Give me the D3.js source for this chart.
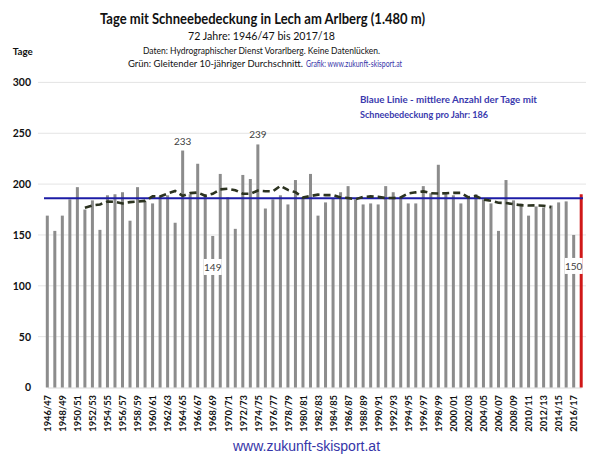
<!DOCTYPE html>
<html>
<head>
<meta charset="utf-8">
<script src="https://cdn.jsdelivr.net/npm/d3@7"></script>
<style>
  html, body { margin: 0; padding: 0; background: #ffffff; }
  svg { display: block; font-family: Lato, "Open Sans", sans-serif; }
</style>
</head>
<body>
<script>
// ---------- data ----------
const seasons = [
  "1946/47","1947/48","1948/49","1949/50","1950/51","1951/52","1952/53","1953/54",
  "1954/55","1955/56","1956/57","1957/58","1958/59","1959/60","1960/61","1961/62",
  "1962/63","1963/64","1964/65","1965/66","1966/67","1967/68","1968/69","1969/70",
  "1970/71","1971/72","1972/73","1973/74","1974/75","1975/76","1976/77","1977/78",
  "1978/79","1979/80","1980/81","1981/82","1982/83","1983/84","1984/85","1985/86",
  "1986/87","1987/88","1988/89","1989/90","1990/91","1991/92","1992/93","1993/94",
  "1994/95","1995/96","1996/97","1997/98","1998/99","1999/00","2000/01","2001/02",
  "2002/03","2003/04","2004/05","2005/06","2006/07","2007/08","2008/09","2009/10",
  "2010/11","2011/12","2012/13","2013/14","2014/15","2015/16","2016/17","2017/18"
];
const snowDays = [
  169,154,169,185,197,175,184,155,189,190,192,164,197,183,181,188,
  189,162,233,190,220,189,149,210,187,156,209,205,239,176,185,189,
  180,204,186,210,169,182,186,192,198,185,180,181,180,198,192,187,
  181,181,198,191,219,192,189,181,188,190,185,181,154,204,184,181,
  169,178,177,179,182,183,150,190
];
const meanDays = 186;            // Blaue Linie
const yTicks = [0, 50, 100, 150, 200, 250, 300];
const labelsAbove = ["1964/65", "1974/75"];
const labelsInside = ["1968/69", "2016/17"];
const highlightSeason = "2017/18";

// ---------- setup ----------
const W = 600, H = 463;
const svg = d3.select("body").append("svg").attr("width", W).attr("height", H);

const x = d3.scalePoint().domain(seasons).range([47.3, 581.2]);
const y = d3.scaleLinear().domain([0, 300]).range([387.5, 82.4]);
const valueOf = new Map(seasons.map((s, i) => [s, snowDays[i]]));

// ---------- titles ----------
function txt(t, xx, yy, size, weight, color, len, anchor) {
  const e = svg.append("text").attr("x", xx).attr("y", yy)
    .attr("font-size", size).attr("font-weight", weight).attr("fill", color)
    .attr("text-anchor", anchor || "start").text(t);
  if (len) e.attr("textLength", len).attr("lengthAdjust", "spacingAndGlyphs");
  return e;
}
txt("Tage mit Schneebedeckung in Lech am Arlberg (1.480 m)", 100, 24, 14.5, "bold", "#111", 325);
txt("72 Jahre: 1946/47 bis 2017/18", 188, 39.5, 11.5, "normal", "#111", 147);
txt("Daten: Hydrographischer Dienst Vorarlberg. Keine Datenlücken.", 143, 54, 9.3, "normal", "#111", 237);
txt("Grün: Gleitender 10-jähriger Durchschnitt.", 128, 66.5, 9.3, "normal", "#111", 175);
txt("Grafik: www.zukunft-skisport.at", 306, 66.5, 9.3, "normal", "#3535a8", 96);
txt("Tage", 12.7, 55, 9.5, "bold", "#111", 20);

// ---------- gridlines ----------
svg.append("g").selectAll("line").data(yTicks.filter(d => d > 0)).join("line")
  .attr("x1", 38).attr("x2", 586)
  .attr("y1", d => y(d)).attr("y2", d => y(d))
  .attr("stroke", "#e4e4e4").attr("stroke-width", 1);

// ---------- y axis ----------
const yAxis = svg.append("g").attr("transform", "translate(34,0)")
  .call(d3.axisLeft(y).tickValues(yTicks).tickSize(0).tickPadding(3));
yAxis.select(".domain").remove();
yAxis.selectAll("text").attr("font-family", "Lato, sans-serif")
  .attr("font-size", 10.5).attr("font-weight", "bold").attr("fill", "#111");

// ---------- x axis ----------
const xAxis = svg.append("g").attr("transform", "translate(0," + y(0) + ")")
  .call(d3.axisBottom(x).tickValues(seasons.filter((d, i) => i % 2 === 0)).tickSize(0));
xAxis.select(".domain").attr("stroke", "#d8d8d8");
xAxis.selectAll("text")
  .attr("font-family", "Lato, sans-serif").attr("font-size", 9.3).attr("font-weight", "bold")
  .attr("fill", "#111").attr("transform", "rotate(-90)")
  .attr("text-anchor", "end").attr("x", -7.5).attr("y", 0).attr("dy", "0.35em");

// ---------- bars ----------
svg.append("g").selectAll("rect").data(seasons).join("rect")
  .attr("x", d => x(d) - 1.5).attr("width", 3)
  .attr("y", d => y(valueOf.get(d)))
  .attr("height", d => y(0) - y(valueOf.get(d)))
  .attr("fill", d => d === highlightSeason ? "#d01818" : "#8c8c8c");

// ---------- value labels ----------
svg.append("g").selectAll("text").data(labelsAbove).join("text")
  .attr("x", d => x(d)).attr("y", d => y(valueOf.get(d)) - 6)
  .attr("text-anchor", "middle").attr("font-size", 10).attr("fill", "#404040")
  .text(d => valueOf.get(d));

const inside = svg.append("g").selectAll("g").data(labelsInside).join("g")
  .attr("transform", d => "translate(" + x(d) + "," + (y(valueOf.get(d)) + 35) + ")");
inside.append("rect").attr("x", -9).attr("y", -12).attr("width", 18).attr("height", 16)
  .attr("fill", "#ffffff");
inside.append("text").attr("text-anchor", "middle").attr("font-size", 10)
  .attr("fill", "#404040").text(d => valueOf.get(d));

// ---------- mean line ----------
svg.append("line").attr("x1", 44).attr("x2", 583)
  .attr("y1", y(meanDays)).attr("y2", y(meanDays))
  .attr("stroke", "#1c1ca6").attr("stroke-width", 2);

// ---------- moving average (centered 10-year) ----------
const ma = [];
for (let i = 5; i + 4 < snowDays.length; i++) {
  ma.push({ s: seasons[i], v: d3.mean(snowDays.slice(i - 5, i + 5)) });
}
svg.append("path").datum(ma)
  .attr("d", d3.line().x(d => x(d.s)).y(d => y(d.v)))
  .attr("fill", "none").attr("stroke", "#2c3320").attr("stroke-width", 2.6)
  .attr("stroke-dasharray", "7,4");

// ---------- legend note ----------
txt("Blaue Linie - mittlere Anzahl der Tage mit", 360, 103, 9, "bold", "#3a3aae", 177);
txt("Schneebedeckung pro Jahr: " + meanDays, 360, 118, 9, "bold", "#3a3aae", 128);

// ---------- footer ----------
svg.append("text").attr("x", 306.5).attr("y", 451).attr("text-anchor", "middle")
  .attr("font-family", "'Liberation Sans', Arial, sans-serif").attr("font-size", 14)
  .attr("fill", "#3535a8").text("www.zukunft-skisport.at");
</script>
</body>
</html>
